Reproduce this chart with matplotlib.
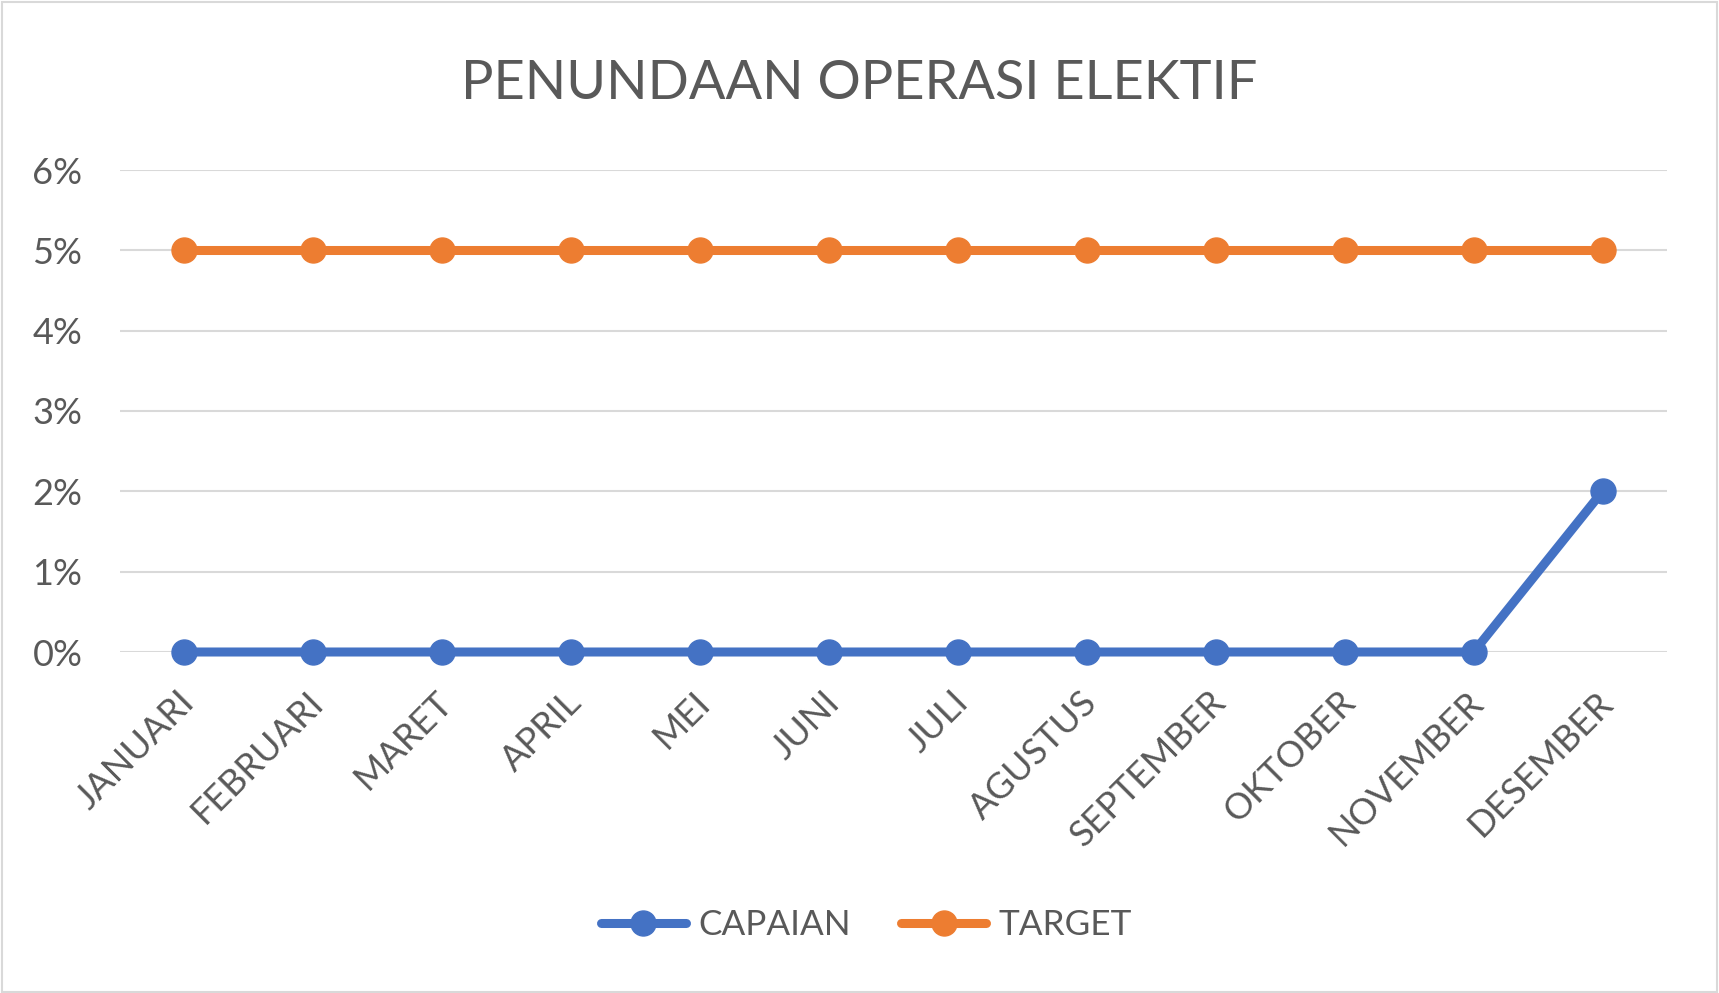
import matplotlib
matplotlib.use("Agg")
import matplotlib.pyplot as plt
from matplotlib.patches import Rectangle
from matplotlib.ticker import PercentFormatter, MultipleLocator
import matplotlib.transforms as mtransforms

months = ["JANUARI", "FEBRUARI", "MARET", "APRIL", "MEI", "JUNI", "JULI",
          "AGUSTUS", "SEPTEMBER", "OKTOBER", "NOVEMBER", "DESEMBER"]
capaian = [0, 0, 0, 0, 0, 0, 0, 0, 0, 0, 0, 0.02]
target = [0.05] * 12

BLUE = "#4472C4"
ORANGE = "#ED7D31"
TEXT = "#595959"
GRID = "#D9D9D9"

plt.rcParams['font.family'] = ['Lato', 'DejaVu Sans']

fig = plt.figure(figsize=(17.19, 9.93), dpi=100)
fig.patches.append(Rectangle((0.001, 0.001), 0.998, 0.997, transform=fig.transFigure,
                             fill=False, edgecolor=GRID, linewidth=1.5))

ax = fig.add_axes([120/1719, 1-652/993, (1667-120)/1719, (652-170)/993])
x = list(range(len(months)))
ax.plot(x, capaian, color=BLUE, lw=6.5, marker='o', ms=18, label='CAPAIAN',
        solid_capstyle='round', zorder=3, clip_on=False)
ax.plot(x, target, color=ORANGE, lw=6.5, marker='o', ms=18, label='TARGET',
        solid_capstyle='round', zorder=3, clip_on=False)

ax.set_xlim(-0.5, len(months) - 0.5)
ax.set_ylim(0, 0.06)
ax.yaxis.set_major_locator(MultipleLocator(0.01))
ax.yaxis.set_major_formatter(PercentFormatter(1.0, decimals=0))
ax.grid(axis='y', color=GRID, lw=1.5)
ax.set_axisbelow(True)
for s in ax.spines.values():
    s.set_visible(False)

ax.set_xticks(x)
ax.set_xticklabels(months, rotation=45, ha='right', va='top', rotation_mode='anchor')
ax.tick_params(axis='both', length=0, colors=TEXT, labelsize=26)
ax.tick_params(axis='y', pad=27)
ax.tick_params(axis='x', pad=24)
off = mtransforms.ScaledTranslation(-5/72, 0, fig.dpi_scale_trans)
for lab in ax.get_xticklabels():
    lab.set_transform(lab.get_transform() + off)

fig.text(0.5, 1 - 99/993, "PENUNDAAN OPERASI ELEKTIF", ha='center', va='baseline',
         fontsize=39, color=TEXT)

leg = fig.legend(loc='center', bbox_to_anchor=(0.504, 1 - 925/993), ncol=2, frameon=False,
                 fontsize=25.3, handlelength=2.4, handletextpad=0.35, columnspacing=1.45,
                 labelcolor=TEXT)

fig.savefig("out.png", dpi=100)
